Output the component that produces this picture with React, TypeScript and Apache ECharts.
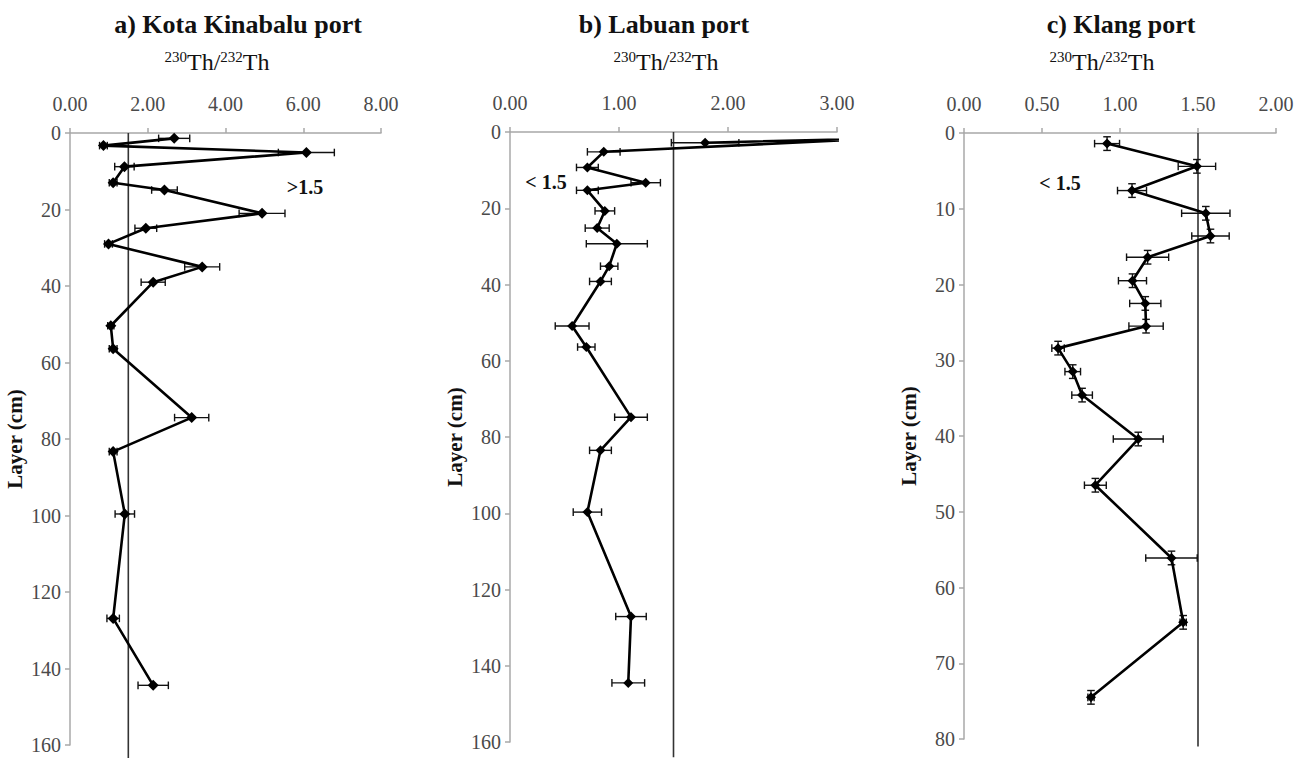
import React, { useEffect, useRef } from "react";
import * as echarts from "echarts";

// ---------- data ----------
// a) Kota Kinabalu port
const kkDepth = [1.4, 3.3, 5.1, 8.8, 13.0, 14.9, 21.0, 24.9, 29.0, 35.0, 39.0, 50.4, 56.4, 74.4, 83.3, 99.6, 126.9, 144.4];
const kkRatio = [2.68, 0.86, 6.08, 1.4, 1.11, 2.43, 4.94, 1.95, 0.99, 3.4, 2.14, 1.05, 1.11, 3.13, 1.11, 1.41, 1.11, 2.14];
const kkErr = [0.4, 0.1, 0.72, 0.25, 0.1, 0.33, 0.59, 0.28, 0.1, 0.45, 0.31, 0.08, 0.1, 0.44, 0.1, 0.25, 0.16, 0.39];

// b) Labuan port (second point lies beyond the 3.00 axis limit)
const lbDepth = [2.8, 1.7, 5.2, 9.3, 13.3, 15.3, 20.7, 25.2, 29.3, 35.2, 39.2, 50.9, 56.4, 74.8, 83.5, 99.7, 127.1, 144.5];
const lbRatio = [1.79, 3.4, 0.86, 0.71, 1.245, 0.71, 0.87, 0.8, 0.98, 0.91, 0.83, 0.57, 0.7, 1.11, 0.83, 0.71, 1.11, 1.085];
const lbErr = [0.31, 0, 0.15, 0.1, 0.135, 0.1, 0.09, 0.11, 0.28, 0.08, 0.1, 0.155, 0.08, 0.15, 0.1, 0.13, 0.14, 0.15];

// c) Klang port
const klDepth = [1.4, 4.4, 7.6, 10.6, 13.6, 16.4, 19.5, 22.5, 25.5, 28.4, 31.5, 34.6, 40.4, 46.5, 56.1, 64.6, 74.5];
const klRatio = [0.917, 1.493, 1.077, 1.55, 1.58, 1.177, 1.08, 1.162, 1.167, 0.603, 0.697, 0.757, 1.117, 0.842, 1.33, 1.405, 0.814];
const klErr = [0.08, 0.12, 0.093, 0.155, 0.12, 0.135, 0.09, 0.1, 0.11, 0.04, 0.05, 0.066, 0.16, 0.07, 0.165, 0.02, 0.02];
const klDepthErr = [0.9, 0.9, 0.9, 0.9, 0.9, 0.9, 0.9, 0.9, 0.9, 0.9, 0.9, 0.9, 0.9, 0.9, 0.9, 0.9, 0.9];

const titles = ["a) Kota Kinabalu port", "b) Labuan port", "c) Klang port"];
const thresholdValue = 1.5;
const thresholdLabels = [">1.5", "< 1.5", "< 1.5"];
const xMax = [8, 3, 2];
const xInterval = [2, 1, 0.5];
const yMax = [160, 160, 80];
const yInterval = [20, 20, 10];
const yName = "Layer (cm)";

const FONT = "Liberation Serif";

export default function App() {
  const ref = useRef<HTMLDivElement>(null);

  useEffect(() => {
    if (!ref.current) return;
    const chart = echarts.init(ref.current, undefined, { renderer: "svg" });

    const grids = [
      { left: 70, top: 133, width: 311, height: 612 },
      { left: 510, top: 132, width: 327, height: 610 },
      { left: 964, top: 133, width: 312, height: 606 },
    ];

    const panels = [
      { depth: kkDepth, ratio: kkRatio, err: kkErr, derr: kkDepth.map(() => 0), size: 11 },
      { depth: lbDepth, ratio: lbRatio, err: lbErr, derr: lbDepth.map(() => 0), size: 10 },
      { depth: klDepth, ratio: klRatio, err: klErr, derr: klDepthErr, size: 10 },
    ];

    const axisLabelStyle = { fontFamily: FONT, fontSize: 20, color: "#4a4a4a" };
    const axisLineStyle = { color: "#a8a8a8", width: 1.5 };

    const xAxis = panels.map((_, i) => ({
      type: "value",
      gridIndex: i,
      position: "top",
      min: 0,
      max: xMax[i],
      interval: xInterval[i],
      axisLine: { show: true, lineStyle: axisLineStyle },
      axisTick: { show: true, length: 5, lineStyle: axisLineStyle },
      splitLine: { show: false },
      axisLabel: { ...axisLabelStyle, margin: 19, formatter: (v: number) => v.toFixed(2) },
    }));

    const yAxis = panels.map((_, i) => ({
      type: "value",
      gridIndex: i,
      inverse: true,
      min: 0,
      max: yMax[i],
      interval: yInterval[i],
      name: yName,
      nameLocation: "middle",
      nameRotate: 90,
      nameGap: 45,
      nameTextStyle: { fontFamily: FONT, fontSize: 21, fontWeight: "bold", color: "#111" },
      axisLine: { show: true, lineStyle: axisLineStyle },
      axisTick: { show: true, length: 5, lineStyle: axisLineStyle },
      splitLine: { show: false },
      axisLabel: { ...axisLabelStyle, margin: 9 },
    }));

    const series: any[] = [];
    panels.forEach((p, i) => {
      // threshold line
      series.push({
        type: "line",
        xAxisIndex: i,
        yAxisIndex: i,
        clip: false,
        symbol: "none",
        silent: true,
        lineStyle: { color: "#333", width: 1.6 },
        data: [
          [thresholdValue, 0],
          [thresholdValue, yMax[i] * (i === 2 ? 1.0125 : 1.025)],
        ],
        z: 1,
      });
      // error bars
      series.push({
        type: "custom",
        xAxisIndex: i,
        yAxisIndex: i,
        clip: true,
        encode: { x: 0, y: 1 },
        data: p.ratio.map((r, k) => [r, p.depth[k], p.err[k], p.derr[k]]),
        renderItem: (params: any, api: any) => {
          const x = api.value(0);
          const y = api.value(1);
          const e = api.value(2);
          const ey = api.value(3);
          const children: any[] = [];
          const st = { stroke: "#111", lineWidth: 1.4 };
          const cap = 3.8;
          if (e > 0) {
            const lo = api.coord([x - e, y]);
            const hi = api.coord([x + e, y]);
            children.push({ type: "line", shape: { x1: lo[0], y1: lo[1], x2: hi[0], y2: hi[1] }, style: st });
            children.push({ type: "line", shape: { x1: lo[0], y1: lo[1] - cap, x2: lo[0], y2: lo[1] + cap }, style: st });
            children.push({ type: "line", shape: { x1: hi[0], y1: hi[1] - cap, x2: hi[0], y2: hi[1] + cap }, style: st });
          }
          if (ey > 0) {
            const t = api.coord([x, y - ey]);
            const b = api.coord([x, y + ey]);
            children.push({ type: "line", shape: { x1: t[0], y1: t[1], x2: b[0], y2: b[1] }, style: st });
            children.push({ type: "line", shape: { x1: t[0] - cap, y1: t[1], x2: t[0] + cap, y2: t[1] }, style: st });
            children.push({ type: "line", shape: { x1: b[0] - cap, y1: b[1], x2: b[0] + cap, y2: b[1] }, style: st });
          }
          return { type: "group", children };
        },
        z: 2,
      });
      // profile line
      series.push({
        type: "line",
        xAxisIndex: i,
        yAxisIndex: i,
        clip: true,
        symbol: "diamond",
        symbolSize: p.size,
        itemStyle: { color: "#000" },
        lineStyle: { color: "#000", width: 2.6 },
        data: p.ratio.map((r, k) => [r, p.depth[k]]),
        z: 3,
      });
    });

    const titleX = [238, 664, 1121];
    const subX = [217, 666, 1102];
    const annot = [
      [305, 187],
      [546, 182],
      [1060, 183],
    ];

    const graphic: any[] = [];
    titles.forEach((t, i) => {
      graphic.push({
        type: "text",
        x: titleX[i],
        y: 24,
        style: {
          text: t,
          font: `bold 26px ${FONT}`,
          fill: "#111",
          align: "center",
          verticalAlign: "middle",
        },
      });
      graphic.push({
        type: "text",
        x: subX[i],
        y: 62,
        style: {
          text: "{sup|230}{n|Th/}{sup|232}{n|Th}",
          align: "center",
          verticalAlign: "middle",
          fill: "#111",
          rich: {
            sup: { fontFamily: FONT, fontSize: 15, lineHeight: 14, verticalAlign: "top", fill: "#111" },
            n: { fontFamily: FONT, fontSize: 24, lineHeight: 26, fill: "#111" },
          },
        },
      });
      graphic.push({
        type: "text",
        x: annot[i][0],
        y: annot[i][1],
        style: {
          text: thresholdLabels[i],
          font: `bold 20px ${FONT}`,
          fill: "#111",
          align: "center",
          verticalAlign: "middle",
        },
      });
    });

    chart.setOption({
      animation: false,
      backgroundColor: "#fff",
      grid: grids,
      xAxis,
      yAxis,
      series,
      graphic,
    });

    return () => chart.dispose();
  }, []);

  return (
    <div
      ref={ref}
      style={{ position: "fixed", left: 0, top: 0, width: 1309, height: 758, background: "#fff" }}
    />
  );
}
